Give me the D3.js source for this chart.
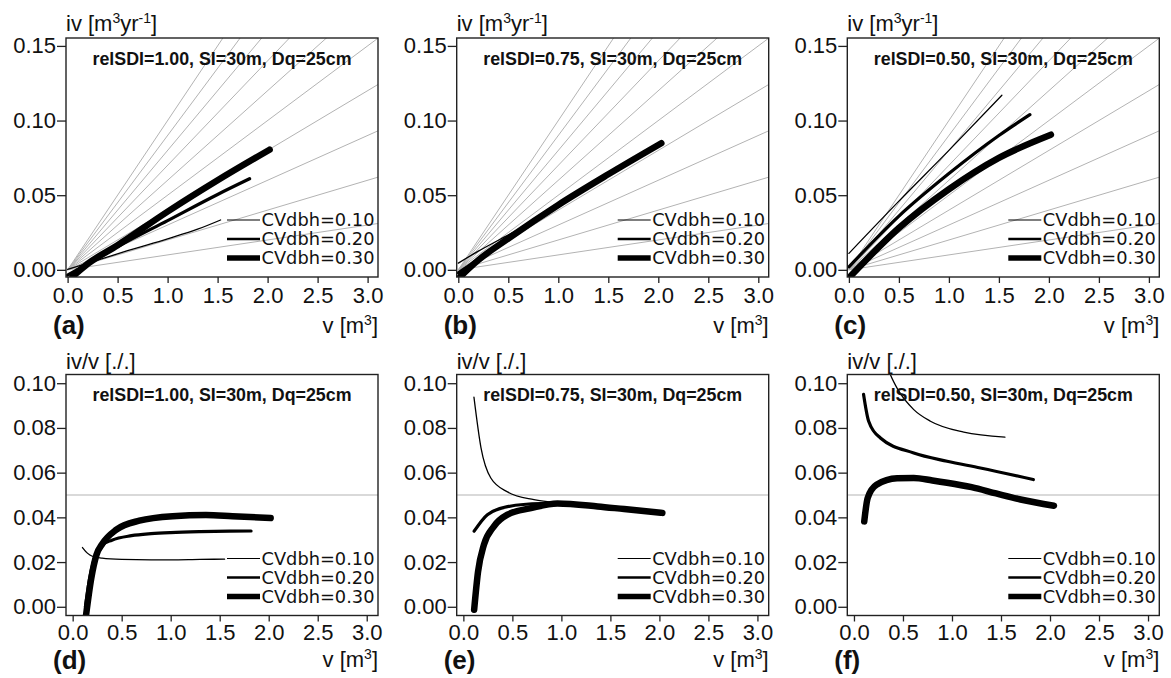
<!DOCTYPE html>
<html>
<head>
<meta charset="utf-8">
<script src="https://cdn.jsdelivr.net/npm/d3@7"></script>
<style>
  html, body { margin: 0; padding: 0; background: #fff; }
  svg { display: block; }
  text { font-family: "Liberation Sans", Arial, sans-serif; fill: #111; }
  .legend text { font-family: "DejaVu Sans", Verdana, sans-serif; }
</style>
</head>
<body>
<svg id="chart" width="1171" height="678"></svg>
<script>
// ---- data: volume v [m3], volume increment iv [m3/yr] and relative increment iv/v ----
const cvLabels = ["CVdbh=0.10", "CVdbh=0.20", "CVdbh=0.30"];
const panelTitles = ["relSDI=1.00, SI=30m, Dq=25cm", "relSDI=0.75, SI=30m, Dq=25cm", "relSDI=0.50, SI=30m, Dq=25cm"];
const panelLetters = ["(a)", "(b)", "(c)", "(d)", "(e)", "(f)"];
const xTicks = [0, 0.5, 1, 1.5, 2, 2.5, 3];
const ivTicks = [0, 0.05, 0.10, 0.15];
const relTicks = [0, 0.02, 0.04, 0.06, 0.08, 0.10];
const refRates = [0.01, 0.02, 0.03, 0.04, 0.05, 0.06, 0.07, 0.08, 0.09, 0.10];
const refRel = 0.05;

// panel (a) relSDI = 1.00
const a_v10 = [0.0, 0.3, 0.6, 1.0, 1.3, 1.53];
const a_iv10 = [0.0003, 0.0065, 0.0128, 0.0208, 0.0272, 0.0334];
const a_v20 = [0.0, 0.2, 0.5, 1.0, 1.5, 1.82];
const a_iv20 = [-0.0035, 0.004, 0.0155, 0.033, 0.0505, 0.061];
const a_v30 = [0.05, 0.2, 0.5, 1.0, 1.5, 2.02];
const a_iv30 = [-0.0045, 0.004, 0.0165, 0.039, 0.060, 0.0805];

// panel (b) relSDI = 0.75
const b_v10 = [0.0, 0.2, 0.42, 0.8, 1.2, 1.55];
const b_iv10 = [0.0045, 0.0125, 0.0205, 0.0345, 0.052, 0.0655];
const b_v20 = [0.0, 0.2, 0.5, 1.0, 1.5, 1.82];
const b_iv20 = [-0.002, 0.007, 0.0212, 0.0435, 0.064, 0.0765];
const b_v30 = [0.02, 0.2, 0.5, 1.0, 1.5, 2.03];
const b_iv30 = [-0.0045, 0.0065, 0.021, 0.0435, 0.064, 0.0848];

// panel (c) relSDI = 0.50
const c_v10 = [0.0, 0.5, 1.0, 1.53];
const c_iv10 = [0.011, 0.046, 0.08, 0.117];
const c_v20 = [0.0, 0.5, 1.0, 1.5, 1.81];
const c_iv20 = [0.002, 0.036, 0.0645, 0.09, 0.104];
const c_v30 = [0.02, 0.5, 1.0, 1.5, 2.02];
const c_iv30 = [-0.004, 0.028, 0.054, 0.075, 0.0905];

// panel (d) relSDI = 1.00
const d_v10 = [0.1, 0.15, 0.2, 0.3, 0.5, 0.8, 1.0, 1.3, 1.55];
const d_r10 = [0.0265, 0.024, 0.0226, 0.0218, 0.0212, 0.021, 0.021, 0.0212, 0.0213];
const d_v20 = [0.13, 0.17, 0.21, 0.25, 0.3, 0.4, 0.6, 0.8, 1.0, 1.3, 1.6, 1.82];
const d_r20 = [0.0, 0.012, 0.02, 0.0245, 0.0275, 0.0298, 0.0318, 0.0327, 0.0332, 0.0336, 0.0338, 0.0339];
const d_v30 = [0.135, 0.19, 0.243, 0.3, 0.446, 0.68, 1.02, 1.36, 1.63, 2.02];
const d_r30 = [-0.0043, 0.0128, 0.0233, 0.028, 0.0345, 0.0385, 0.0405, 0.041, 0.0405, 0.0397];

// panel (e) relSDI = 0.75
const e_v10 = [0.108, 0.18, 0.28, 0.45, 0.72, 1.0, 1.3, 1.55];
const e_r10 = [0.0938, 0.0711, 0.0576, 0.0514, 0.0479, 0.0463, 0.0453, 0.0445];
const e_v20 = [0.11, 0.245, 0.45, 0.79, 1.0, 1.4, 1.82];
const e_r20 = [0.0338, 0.0412, 0.0448, 0.0462, 0.0463, 0.045, 0.0432];
const e_v30 = [0.11, 0.15, 0.21, 0.31, 0.45, 0.69, 0.96, 1.37, 1.64, 2.03];
const e_r30 = [-0.0013, 0.0158, 0.0278, 0.0359, 0.0412, 0.0441, 0.0462, 0.0449, 0.0437, 0.042];

// panel (f) relSDI = 0.50
const f_v10 = [0.3, 0.37, 0.45, 0.61, 0.78, 1.12, 1.54];
const f_r10 = [0.113, 0.104, 0.097, 0.0882, 0.083, 0.0781, 0.0759];
const f_v20 = [0.098, 0.15, 0.27, 0.61, 0.95, 1.29, 1.83];
const f_r20 = [0.095, 0.083, 0.0755, 0.0688, 0.0651, 0.0621, 0.0569];
const f_v30 = [0.105, 0.14, 0.23, 0.44, 0.61, 0.8, 0.95, 1.2, 1.45, 1.7, 2.04];
const f_r30 = [0.0382, 0.0487, 0.0546, 0.0575, 0.0576, 0.0565, 0.0555, 0.0535, 0.0507, 0.048, 0.0452];

// ---- layout ----
const svg = d3.select("#chart");
const boxLefts = [66, 456.7, 847.3];
const boxW = 312;
const rows = [
  { top: 38, bottom: 277, xDom: [-0.016, 3.104], yDom: [-0.0048, 0.1553], ticks: ivTicks,
    yLab: "iv", ref: "fan", xLabY: 56, letterY: 57, xPad: 4 },
  { top: 374.5, bottom: 615.5, xDom: [-0.068, 3.115], yDom: [-0.0039, 0.1039], ticks: relTicks,
    yLab: "rel", ref: "flat", xLabY: 51, letterY: 53.5, xPad: 3 }
];
const widths = [1.3, 3.2, 6.5];

const zip = (vs, ys) => vs.map((v, i) => [v, ys[i]]);
const panels = [
  [zip(a_v10, a_iv10), zip(a_v20, a_iv20), zip(a_v30, a_iv30)],
  [zip(b_v10, b_iv10), zip(b_v20, b_iv20), zip(b_v30, b_iv30)],
  [zip(c_v10, c_iv10), zip(c_v20, c_iv20), zip(c_v30, c_iv30)],
  [zip(d_v10, d_r10), zip(d_v20, d_r20), zip(d_v30, d_r30)],
  [zip(e_v10, e_r10), zip(e_v20, e_r20), zip(e_v30, e_r30)],
  [zip(f_v10, f_r10), zip(f_v20, f_r20), zip(f_v30, f_r30)]
];

const defs = svg.append("defs");

panels.forEach((series, p) => {
  const r = rows[Math.floor(p / 3)];
  const col = p % 3;
  const left = boxLefts[col];
  const h = r.bottom - r.top;
  const g = svg.append("g").attr("transform", `translate(${left},${r.top})`);
  const x = d3.scaleLinear().domain(r.xDom).range([0, boxW]);
  const y = d3.scaleLinear().domain(r.yDom).range([h, 0]);

  const clipId = "clip" + p;
  defs.append("clipPath").attr("id", clipId)
    .append("rect").attr("width", boxW).attr("height", h);

  const plot = g.append("g").attr("clip-path", `url(#${clipId})`);

  // reference lines: constant relative increment
  if (r.ref === "fan") {
    plot.selectAll("line.ref").data(refRates).join("line")
      .attr("x1", x(0)).attr("y1", y(0))
      .attr("x2", x(r.xDom[1] * 1.2)).attr("y2", d => y(d * r.xDom[1] * 1.2))
      .attr("stroke", "#b3b3b3").attr("stroke-width", 1);
  } else {
    plot.append("line")
      .attr("x1", 0).attr("x2", boxW)
      .attr("y1", y(refRel)).attr("y2", y(refRel))
      .attr("stroke", "#b3b3b3").attr("stroke-width", 1.2);
  }

  const line = d3.line().x(d => x(d[0])).y(d => y(d[1])).curve(d3.curveMonotoneX);
  plot.selectAll("path.curve").data(series).join("path")
    .attr("d", line)
    .attr("fill", "none").attr("stroke", "#000")
    .attr("stroke-width", (d, i) => widths[i])
    .attr("stroke-linecap", "round").attr("stroke-linejoin", "round");

  // frame
  g.append("rect").attr("width", boxW).attr("height", h)
    .attr("fill", "none").attr("stroke", "#222").attr("stroke-width", 1.4);

  // axes
  const yAxis = d3.axisLeft(y).tickValues(r.ticks).tickFormat(d3.format(".2f")).tickSize(9).tickPadding(1);
  const ya = g.append("g").call(yAxis);
  const xAxis = d3.axisBottom(x).tickValues(xTicks).tickFormat(d3.format(".1f")).tickSize(6).tickPadding(r.xPad);
  const xa = g.append("g").attr("transform", `translate(0,${h})`).call(xAxis);
  [ya, xa].forEach(a => {
    a.select(".domain").remove();
    a.selectAll(".tick line").attr("stroke", "#222").attr("stroke-width", 1.3);
    a.selectAll(".tick text").attr("font-size", 22).attr("fill", "#111")
      .attr("font-family", '"Liberation Sans", Arial, sans-serif');
  });

  // title
  g.append("text").attr("x", boxW / 2).attr("y", 26.5)
    .attr("text-anchor", "middle").attr("font-weight", "bold").attr("font-size", 18)
    .attr("textLength", 259).attr("lengthAdjust", "spacingAndGlyphs")
    .text(panelTitles[col]);

  // legend
  const lg = g.append("g").attr("class", "legend");
  [57, 38, 19].forEach((off, i) => {
    lg.append("line").attr("x1", 161).attr("x2", 194)
      .attr("y1", h - off).attr("y2", h - off)
      .attr("stroke", "#000").attr("stroke-width", widths[i] * 0.85);
    lg.append("text").attr("x", 195.5).attr("y", h - off)
      .attr("dominant-baseline", "central").attr("font-size", 17.5)
      .attr("textLength", 113).attr("lengthAdjust", "spacingAndGlyphs")
      .text(cvLabels[i]);
  });

  // y axis label
  const yl = g.append("text").attr("x", 0).attr("y", r.yLab === "iv" ? -7 : -6).attr("font-size", 22);
  if (r.yLab === "iv") {
    yl.append("tspan").text("iv [m");
    yl.append("tspan").attr("font-size", 14).attr("dy", -8).text("3");
    yl.append("tspan").attr("dy", 8).text("yr");
    yl.append("tspan").attr("font-size", 14).attr("dy", -8).text("-1");
    yl.append("tspan").attr("dy", 8).text("]");
  } else {
    yl.text("iv/v [./.]");
  }

  // x axis label
  const xl = g.append("text").attr("x", boxW).attr("y", h + r.xLabY).attr("text-anchor", "end").attr("font-size", 22);
  xl.append("tspan").text("v [m");
  xl.append("tspan").attr("font-size", 14).attr("dy", -8).text("3");
  xl.append("tspan").attr("dy", 8).text("]");

  // panel letter
  g.append("text").attr("x", -13).attr("y", h + r.letterY)
    .attr("font-size", 26).attr("font-weight", "bold")
    .text(panelLetters[p]);
});
</script>
</body>
</html>
